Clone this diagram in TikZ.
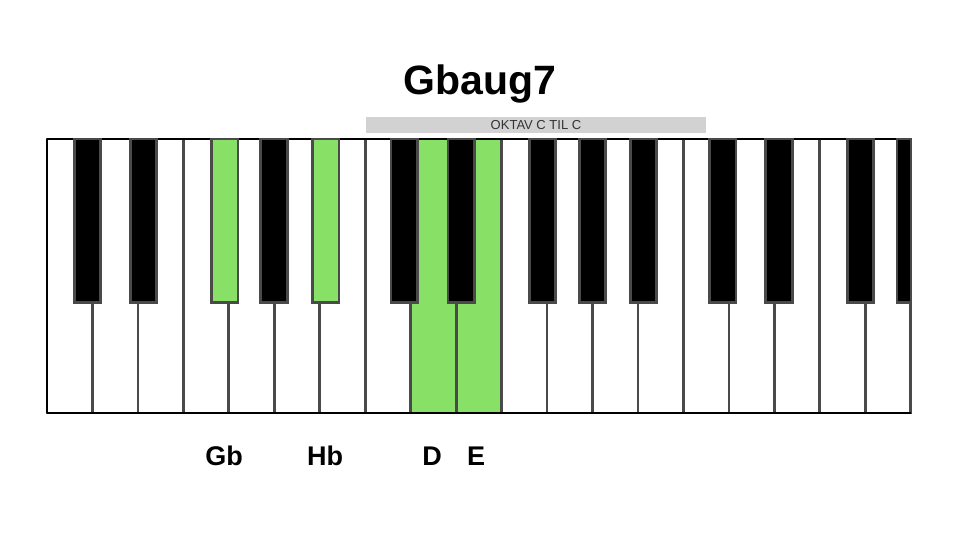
\documentclass[tikz,border=0pt]{standalone}
\usepackage{fontspec}
\setmainfont{Liberation Sans}
\definecolor{keygreen}{HTML}{88E066}
\definecolor{edgegray}{HTML}{4A4A4A}
\definecolor{bargray}{HTML}{D2D2D2}
\definecolor{bartext}{HTML}{333333}
\begin{document}
\begin{tikzpicture}[x=1pt,y=-1pt,
  whitekey/.style={draw=edgegray,line width=2.8pt,fill=white,minimum width=45.46pt,minimum height=274pt,inner sep=0pt,outer sep=0pt,anchor=north west},
  blackkey/.style={draw=edgegray,line width=2.6pt,fill=black,minimum width=26.5pt,minimum height=163.5pt,inner sep=0pt,outer sep=0pt,anchor=north},
  greenfill/.style={fill=keygreen},
  notelabel/.style={font=\fontsize{27}{27}\selectfont\bfseries,anchor=base,inner sep=0pt},
  titlestyle/.style={font=\fontsize{41}{41}\selectfont\bfseries,anchor=base,inner sep=0pt},
  octavebar/.style={fill=bargray,minimum width=340pt,minimum height=16.5pt,inner sep=0pt,font=\fontsize{13}{13}\selectfont,text=bartext},
  frameline/.style={draw=black,line width=2.2pt}
]
\useasboundingbox (0,0) rectangle (960,540);
% white keys
\foreach \i in {0,...,18} {
  \node[whitekey] (w\i) at ({47+45.46*\i},139) {};
}
\node[whitekey,greenfill] (w8g) at ({47+45.46*8},139) {};
\node[whitekey,greenfill] (w9g) at ({47+45.46*9},139) {};
% frame
\draw[frameline] (w0.north west) -- (w18.north east);
\draw[frameline] (w0.south west) -- (w18.south east);
\draw[frameline] (w0.north west) -- (w0.south west);
% black keys
\foreach \c [count=\n] in {87.5,143.5,274,404.2,461.2,542.5,592.5,643.5,722.9,779,860.5} {
  \node[blackkey] (b\n) at (\c,139) {};
}
\node[blackkey,greenfill] (bGb) at (224.9,139) {};
\node[blackkey,greenfill] (bHb) at (325.9,139) {};
\node[blackkey,minimum width=14pt,anchor=north west] (bend) at (897,139) {};
% title and bar
\node[titlestyle] (title) at (480,95) {Gbaug7};
\node[octavebar] (bar) at (536,125) {OKTAV C TIL C};
% labels
\node[notelabel] (lGb) at (224,465) {Gb};
\node[notelabel] (lHb) at (325,465) {Hb};
\node[notelabel] (lD) at (432,465) {D};
\node[notelabel] (lE) at (476,465) {E};
\end{tikzpicture}
\end{document}
